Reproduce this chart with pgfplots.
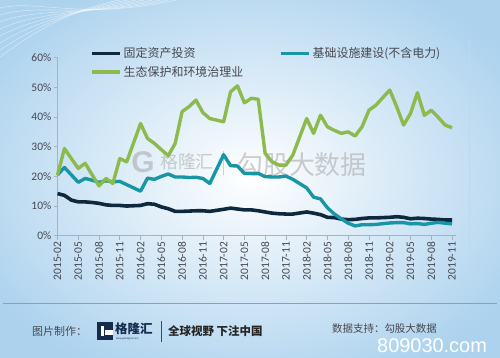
\documentclass[border=0pt]{standalone}
\usepackage{pgfplots}
\usepackage{pgfplotstable}
\pgfplotsset{compat=1.18}
\usepackage{fontspec}
\setmainfont{Carlito}
\newfontfamily\cjk{Noto Sans CJK SC}
\newfontfamily\web{Liberation Sans}
\definecolor{navyline}{RGB}{14,40,62}
\definecolor{tealline}{RGB}{24,150,166}
\definecolor{greenline}{RGB}{140,186,76}
\definecolor{axisgray}{RGB}{165,178,192}
\definecolor{labelgray}{RGB}{70,72,78}
\definecolor{bgblue}{RGB}{172,210,238}
\definecolor{logonavy}{RGB}{22,44,78}

\pgfplotstableread{
x y
0 14.2
1 13.6
2 12.0
3 11.4
4 11.4
5 11.2
6 10.9
7 10.4
8 10.2
9 10.2
10 10.0
12 10.2
13 10.8
14 10.6
15 9.7
16 9.1
17 8.2
18 8.2
19 8.3
20 8.4
21 8.4
22 8.2
24 8.9
25 9.3
26 9.0
27 8.7
28 8.7
29 8.4
30 8.0
31 7.6
32 7.4
33 7.3
34 7.3
36 8.0
37 7.6
38 7.1
39 6.2
40 6.1
41 5.6
42 5.4
43 5.5
44 5.8
45 6.0
46 6.0
48 6.2
49 6.4
50 6.2
51 5.7
52 5.9
53 5.8
54 5.6
55 5.5
56 5.3
57 5.3
}\fai

\pgfplotstableread{
x y
0 20.5
1 23.0
2 20.5
3 18.0
4 19.3
5 18.7
6 18.0
7 18.5
8 18.2
9 18.3
10 17.2
12 15.0
13 19.4
14 19.0
15 20.0
16 20.8
17 19.8
18 19.8
19 19.6
20 19.7
21 19.3
22 17.6
24 27.3
25 23.6
26 23.5
27 21.0
28 21.0
29 21.0
30 19.9
31 19.8
32 19.8
33 20.1
34 19.0
36 16.1
37 13.0
38 12.4
39 9.4
40 7.3
41 5.7
42 4.2
43 3.3
44 3.7
45 3.7
46 3.8
48 4.3
49 4.4
50 4.4
51 4.0
52 4.1
53 3.8
54 4.2
55 4.5
56 4.2
57 4.0
}\infra

\pgfplotstableread{
x y
0 20.4
1 29.4
2 26.0
3 22.7
4 24.4
5 20.5
6 16.8
7 19.3
8 17.6
9 26.0
10 24.9
12 37.8
13 32.8
14 31.1
15 29.0
16 27.0
17 31.1
18 41.8
19 43.5
20 45.7
21 41.5
22 39.5
24 38.4
25 48.5
26 50.5
27 44.8
28 46.3
29 46.0
30 27.7
31 24.9
32 23.8
33 23.8
34 27.2
36 39.5
37 34.5
38 40.6
39 36.7
40 35.5
41 34.5
42 35.0
43 33.6
44 36.7
45 42.3
46 44.0
48 49.1
49 43.5
50 37.3
51 41.2
52 48.2
53 40.6
54 42.3
55 39.9
56 37.3
57 36.4
}\eco

\begin{document}
\begin{tikzpicture}[x=1bp,y=1bp]
\useasboundingbox (0,0) rectangle (500,357);
% background
\shade[inner color=white, outer color=bgblue] (-60,-40) rectangle (560,400);
\foreach \k in {0,...,7}{
  \draw[white, opacity=0.45, line width=0.6pt] (0,{300+\k*7}) .. controls (40,{330+\k*4}) and (80,{350-\k*2}) .. ({120+\k*8},357);
}
% right border
\draw[color={rgb,255:red,200;green,214;blue,228}, line width=0.6pt] (469,67) -- (469,317);
% watermark
\node[text=gray!70, opacity=0.55, font=\web\bfseries\fontsize{30}{30}\selectfont, inner sep=0] at (143,195) {G};
\node[text=gray!70, opacity=0.55, font=\cjk\fontsize{18}{18}\selectfont, inner sep=0] at (187,195) {格隆汇};
\draw[gray!60, opacity=0.55, line width=0.8pt] (223,182) -- (223,206);
\node[text=gray!70, opacity=0.55, font=\cjk\fontsize{26}{26}\selectfont, inner sep=0] at (302,192) {勾股大数据};

\begin{axis}[
  at={(57.5bp,121.3bp)}, anchor=south west,
  scale only axis, width=398bp, height=178bp,
  xmin=0, xmax=57.5, ymin=0, ymax=60,
  axis lines*=left,
  axis line style={axisgray, line width=0.7pt},
  tick style={axisgray, line width=0.7pt},
  tick align=outside, major tick length=4bp,
  xtick={0,3,...,57},
  xticklabels={2015-02,2015-05,2015-08,2015-11,2016-02,2016-05,2016-08,2016-11,2017-02,2017-05,2017-08,2017-11,2018-02,2018-05,2018-08,2018-11,2019-02,2019-05,2019-08,2019-11},
  x tick label style={rotate=90, anchor=east, font=\fontsize{11.5}{11.5}\selectfont, text=labelgray, inner sep=2bp},
  ytick={0,10,...,60},
  yticklabels={0\%,10\%,20\%,30\%,40\%,50\%,60\%},
  y tick label style={font=\fontsize{11.5}{11.5}\selectfont, text=labelgray, inner sep=2bp},
  legend columns=2,
  legend cell align=left,
  legend style={draw=none, fill=none, at={(axis description cs:0.074,1.08)}, anchor=north west,
    font=\cjk\fontsize{12}{12}\selectfont, text=labelgray, row sep=3bp,
    /tikz/every even column/.append style={column sep=34bp}},
  legend image code/.code={\draw[#1] (0bp,0bp) -- (28bp,0bp);},
  clip=false,
]
\addplot[navyline, line width=3.6pt, line join=round] table[x=x,y=y] {\fai};
\addlegendentry{固定资产投资}
\addplot[tealline, line width=3.4pt, line join=round] table[x=x,y=y] {\infra};
\addlegendentry{基础设施建设(不含电力)}
\addplot[greenline, line width=3.4pt, line join=round] table[x=x,y=y] {\eco};
\addlegendentry{生态保护和环境治理业}
\end{axis}

% footer
\draw[color={rgb,255:red,140;green,160;blue,180}, line width=0.6pt] (3,54) -- (497,54);
\node[anchor=west, inner sep=0, font=\cjk\fontsize{11}{11}\selectfont, text=labelgray] at (32,26) {图片制作：};
\fill[logonavy] (97,17) rectangle (113,35);
\fill[white] (105,22) rectangle (113,27);
\fill[white] (101,21) rectangle (104,31);
\node[anchor=west, inner sep=0, font=\cjk\bfseries\fontsize{12.5}{12.5}\selectfont, text=logonavy] at (115,28) {格隆汇};
\node[anchor=west, inner sep=0, font=\web\fontsize{2.5}{2.5}\selectfont, text=logonavy] at (116,18) {www.gelonghui.com};
\draw[labelgray, line width=0.6pt] (161,15) -- (161,36);
\node[anchor=west, inner sep=0, font=\cjk\bfseries\fontsize{11.5}{11.5}\selectfont, text=black!85] at (168,26) {全球视野 下注中国};
\node[anchor=west, inner sep=0, font=\cjk\fontsize{10.5}{10.5}\selectfont, text=labelgray] at (332,28) {数据支持：勾股大数据};
\node[anchor=west, inner sep=0, font=\web\fontsize{20}{20}\selectfont, text=white] at (377,11) {809030.com};
\end{tikzpicture}
\end{document}
